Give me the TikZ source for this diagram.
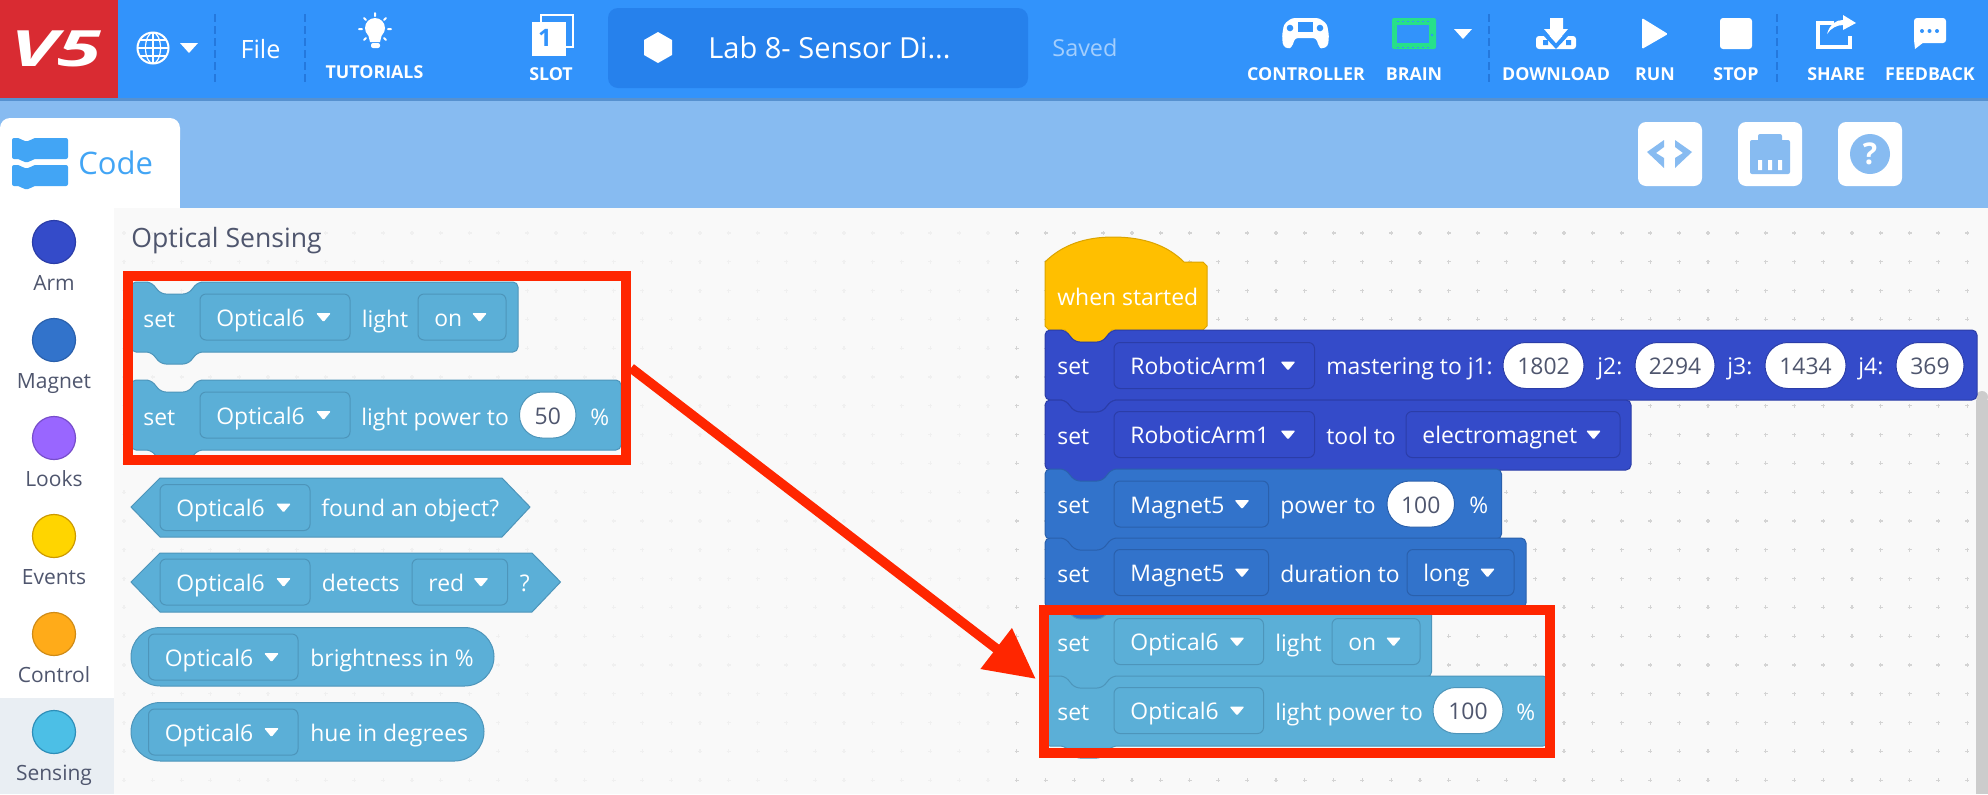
\documentclass[tikz,border=0pt]{standalone}
\usepackage{fontspec}
\usepackage{graphicx}
\setmainfont{Open Sans}
\usetikzlibrary{arrows.meta}
\definecolor{barblue}{HTML}{3293FB}
\definecolor{bandblue}{HTML}{87BBF1}
\definecolor{titleblue}{HTML}{2681EC}
\definecolor{sepblue}{HTML}{2478DD}
\definecolor{logored}{HTML}{D92B32}
\definecolor{codeblue}{HTML}{42A5F5}
\definecolor{inkgray}{HTML}{4F566E}
\definecolor{paper}{HTML}{F9F9F9}
\definecolor{sensback}{HTML}{E9EEF3}
\definecolor{redmark}{HTML}{FF2600}
\definecolor{brainfill}{HTML}{27E08A}
\definecolor{armfill}{HTML}{344BC9}
\definecolor{armedge}{HTML}{2B3DA8}
\definecolor{magfill}{HTML}{3273CB}
\definecolor{magedge}{HTML}{2A60AC}
\definecolor{optfill}{HTML}{5BAFD7}
\definecolor{optedge}{HTML}{4D95BA}
\definecolor{hatfill}{HTML}{FFBF00}
\definecolor{hatedge}{HTML}{DBA400}
\definecolor{lookfill}{HTML}{9966FF}
\definecolor{lookedge}{HTML}{774DCB}
\definecolor{evtfill}{HTML}{FFD500}
\definecolor{evtedge}{HTML}{CC9900}
\definecolor{ctlfill}{HTML}{FFAB19}
\definecolor{ctledge}{HTML}{CF8B17}
\definecolor{sensfill}{HTML}{4CBFE6}
\definecolor{sensedge}{HTML}{2E8EB8}
\newcommand{\blockfont}{\fontsize{11.45}{13}\selectfont}
\tikzset{
  blocktxt/.style={anchor=base west,inner sep=0pt,yshift=-.5pt,text=white,font=\blockfont},
  valtxt/.style={anchor=base,inner sep=0pt,yshift=-.5pt,text=inkgray,font=\blockfont},
  sidetxt/.style={anchor=base,inner sep=0pt,text=inkgray,font=\fontsize{10.5}{12}\selectfont},
  toptxt/.style={anchor=base,inner sep=0pt,text=white,font=\bfseries\fontsize{8.9}{10}\selectfont},
  sepline/.style={draw=sepblue,line width=.8pt,dash pattern=on 4pt off 2pt},
  redbox/.style={draw=redmark,line width=5pt,inner sep=0pt},
  redarrow/.style={draw=redmark,fill=redmark,line width=4.8pt,shorten >=2pt,-{Triangle[width=24.5pt,length=25pt]}}
}
% stack block: x0, y0, x1, colour
\newcommand{\stackblk}[4]{
  \draw[fill=#4fill,draw=#4edge,line width=.5pt,rounded corners=2.5pt]
    (#1,#2+35) -- (#1,#2) -- (#1+20,#2) -- (#1+30,#2+12) -- (#1+57,#2+12) -- (#1+67,#2)
    -- (#3,#2) -- (#3,#2+70) -- (#1+67,#2+70) -- (#1+57,#2+82) -- (#1+30,#2+82)
    -- (#1+20,#2+70) -- (#1,#2+70) -- cycle;
}
% dropdown: name, x0, x1, yc, colour, label
\newcommand{\dropbox}[6]{
  \draw[fill=#5fill,draw=#5edge,line width=.5pt,rounded corners=3pt] (#2,#4-23) rectangle (#3,#4+23);
  \node[blocktxt] (#1) at (#2+16,#4+8) {#6};
  \fill[white,rounded corners=.6pt] (#3-34,#4-4) -- (#3-19,#4-4) -- (#3-26.5,#4+5) -- cycle;
}
% value pill: name, x0, x1, yc, colour, value
\newcommand{\valpill}[6]{
  \draw[fill=white,draw=#5edge,line width=.5pt,rounded corners=11.4pt] (#2,#4-23) rectangle (#3,#4+23);
  \node[valtxt] (#1) at ({(#2+#3)/2},#4+8) {#6};
}
\begin{document}
\begin{tikzpicture}[x=.5pt,y=-.5pt]
  \useasboundingbox (0,0) rectangle (1988,794);
  \fill[paper] (0,0) rectangle (1988,794);
  \foreach \i in {0,...,64} % grid of the workspace
    \foreach \j in {0,...,19} {
      \ifnum\i<31 \def\dotcol{black!6}\else \def\dotcol{black!17}\fi
      \draw[\dotcol,line width=.6pt] (124+28.8*\i-2,233+28.8*\j) -- +(4,0);
      \draw[\dotcol,line width=.6pt] (124+28.8*\i,233+28.8*\j-2) -- +(0,4);
    }
  \fill[black!20] (1976,400) rectangle (1988,794);
  \fill[black!20] (1982,397) circle[radius=6];
  \fill[bandblue] (0,99) rectangle (1988,208);
  \fill[bandblue!60!barblue!85!black] (0,98) rectangle (1988,101);
  \fill[barblue] (0,0) rectangle (1988,98);
  \fill[logored] (0,0) rectangle (118,98);
  \node[anchor=base,inner sep=0pt,text=white,font=\bfseries\itshape\fontsize{25}{26}\selectfont] (logo) at (56,66) {\scalebox{1.6}[1]{V5}};
  % globe and menu
  \draw[white,line width=1pt] (153,48) circle[radius=15.5];
  \draw[white,line width=.6pt] (153,48) ellipse[x radius=7.5,y radius=15.5];
  \draw[white,line width=.6pt] (153,32.5) -- (153,63.5) (138,48) -- (168,48) (140,40) -- (166,40) (140,56) -- (166,56);
  \fill[white] (180,43) -- (198,43) -- (189,53) -- cycle;
  \draw[sepline] (215,14) -- (215,84);
  \draw[sepline] (305,14) -- (305,84);
  \node[anchor=base,inner sep=0pt,text=white,font=\fontsize{12.6}{14}\selectfont] (filemenu) at (260.5,58) {File};
  % tutorials bulb
  \fill[white] (375,28) circle[radius=10];
  \fill[white] (368,34) -- (382,34) -- (380,42) -- (370,42) -- cycle;
  \fill[white,rounded corners=1pt] (371,43) rectangle (380,48);
  \draw[white,line width=1pt,line cap=round] (375,13) -- (375,16) (359,29) -- (362,29) (388,29) -- (391,29)
    (364,18) -- (366,20) (386,18) -- (384,20) (364,40) -- (366,38) (386,40) -- (384,38);
  \node[toptxt] (tutorials) at (374.5,78) {TUTORIALS};
  % slot
  \draw[white,line width=1pt] (541,15) rectangle (573,47);
  \fill[white] (532,22) rectangle (566,56);
  \node[anchor=center,inner sep=0pt,text=barblue,font=\bfseries\fontsize{12}{13}\selectfont] (slotnum) at (545,38) {1};
  \node[toptxt] (slot) at (551,80) {SLOT};
  % project title
  \fill[titleblue,rounded corners=5pt] (608,8) rectangle (1028,88);
  \fill[white] (644,40) -- (658,32) -- (672,40) -- (672,55) -- (658,63) -- (644,55) -- cycle;
  \node[anchor=base west,inner sep=0pt,text=white,font=\fontsize{14.5}{16}\selectfont] (project) at (708,58) {Lab 8- Sensor Di...};
  \node[anchor=base west,inner sep=0pt,text=white!55!barblue,font=\fontsize{11.7}{13}\selectfont] (saved) at (1052,56) {Saved};
  % controller
  \fill[white,rounded corners=1.5pt] (1292,18) -- (1319,18) -- (1327,24) -- (1329,36) -- (1328,46) -- (1322,49) -- (1319,47)
    -- (1316,38) -- (1295,38) -- (1292,47) -- (1288,49) -- (1283,46) -- (1282,36) -- (1284,24) -- cycle;
  \fill[barblue] (1298,22) rectangle (1313,32);
  \fill[barblue] (1290,28) circle[radius=3.3] (1320,28) circle[radius=3.3];
  \node[toptxt] (controller) at (1306,80) {CONTROLLER};
  % brain
  \fill[brainfill,rounded corners=1pt] (1392,18) rectangle (1436,49);
  \fill[barblue] (1397,25) rectangle (1429,43);
  \fill[barblue] (1432,35) circle[radius=1.4];
  \draw[barblue,line width=.3pt,dash pattern=on 1pt off 1.5pt] (1397,21) -- (1430,21) (1397,47) -- (1430,47);
  \node[toptxt] (brain) at (1414,80) {BRAIN};
  \fill[white] (1454,29) -- (1472,29) -- (1463,39) -- cycle;
  \draw[sepline] (1489,14) -- (1489,84);
  % download
  \fill[white,rounded corners=1.5pt] (1536,36) rectangle (1576,49);
  \draw[barblue,line width=2pt] (1541,30) -- (1556,46) -- (1571,30);
  \fill[white] (1550,18) -- (1563,18) -- (1563,29) -- (1568,29) -- (1556,43) -- (1544,29) -- (1550,29) -- cycle;
  \fill[barblue] (1543,40) rectangle (1548,45) (1566,40) rectangle (1571,45);
  \node[toptxt] (download) at (1556,80) {DOWNLOAD};
  % run and stop
  \fill[white,rounded corners=.6pt] (1642,18) -- (1668,34) -- (1642,49) -- cycle;
  \node[toptxt] (runbtn) at (1655,80) {RUN};
  \fill[white,rounded corners=1.5pt] (1720,18) rectangle (1752,49);
  \node[toptxt] (stopbtn) at (1736,80) {STOP};
  \draw[sepline] (1777,14) -- (1777,84);
  % share
  \draw[white,line width=2pt] (1834,23) -- (1818,23) -- (1818,47) -- (1850,47) -- (1850,36);
  \fill[white] (1827,34) .. controls (1830,24) and (1836,20) .. (1843,20) -- (1843,15) -- (1856,23) -- (1843,30) -- (1843,25)
    .. controls (1837,25) and (1831,28) .. (1827,34) -- cycle;
  \node[toptxt] (share) at (1836,80) {SHARE};
  % feedback
  \fill[white,rounded corners=1.5pt] (1914,18) rectangle (1946,43);
  \fill[white] (1914,40) -- (1915,49) -- (1924,42) -- cycle;
  \fill[barblue] (1922,31) circle[radius=2] (1929.5,31) circle[radius=2] (1937,31) circle[radius=2];
  \node[toptxt] (feedback) at (1930,80) {FEEDBACK};
  % small buttons
  \foreach \bx in {1638,1738,1838}
    \fill[white,rounded corners=4pt] (\bx,122) rectangle (\bx+64,186);
  \fill[bandblue] (1664,140) -- (1647,152) -- (1664,168) -- (1664,158) -- (1656,153) -- (1664,147) -- cycle;
  \fill[bandblue] (1675,140) -- (1692,152) -- (1675,168) -- (1675,158) -- (1683,153) -- (1675,147) -- cycle;
  \fill[bandblue,rounded corners=1pt] (1758,134) rectangle (1782,145);
  \fill[bandblue,rounded corners=1pt] (1750,140) rectangle (1790,174);
  \fill[white] (1758,160) rectangle (1762,170) (1768,160) rectangle (1772,170) (1778,160) rectangle (1782,170);
  \fill[bandblue] (1870,154) circle[radius=20];
  \node[anchor=center,inner sep=0pt,text=white,font=\bfseries\fontsize{15}{16}\selectfont] (helpmark) at (1870,154) {?};
  % code tab and sidebar
  \fill[white,rounded corners=5pt] (0,118) rectangle (180,150);
  \fill[white] (0,135) rectangle (180,208);
  \fill[white] (0,208) rectangle (114,794);
  \fill[sensback] (0,698) rectangle (114,794);
  \foreach \by in {138,165} {
    \fill[codeblue,rounded corners=1pt] (12,\by) -- (20,\by) -- (23,\by+3) -- (30,\by+3) -- (33,\by) -- (68,\by) -- (68,\by+21)
      -- (33,\by+21) -- (30,\by+24) -- (23,\by+24) -- (20,\by+21) -- (12,\by+21) -- cycle;
  }
  \node[anchor=base west,inner sep=0pt,text=codeblue,font=\fontsize{15.5}{17}\selectfont] (codetab) at (78,174) {Code};
  \foreach \yc/\lab/\col in {242/Arm/arm,340/Magnet/mag,438/Looks/look,536/Events/evt,634/Control/ctl,732/Sensing/sens} {
    \draw[fill=\col fill,draw=\col edge,line width=.6pt] (54,\yc) circle[radius=21.5];
    \node[sidetxt] (side\lab) at (54,\yc+48) {\lab};
  }
  \node[anchor=base west,inner sep=0pt,text=inkgray,font=\fontsize{13.3}{15}\selectfont] (palhead) at (131,247) {Optical Sensing};

  % palette blocks
  \stackblk{131}{282}{518}{opt}
  \node[blocktxt] (palset1) at (143,326) {set};
  \dropbox{palopt1}{200}{350}{317}{opt}{Optical6}
  \node[blocktxt] (pallight) at (361.5,326) {light};
  \dropbox{palon}{418}{506}{317}{opt}{on}
  \stackblk{131}{380}{621}{opt}
  \node[blocktxt] (palset2) at (143,424) {set};
  \dropbox{palopt2}{200}{350}{415}{opt}{Optical6}
  \node[blocktxt] (palpower) at (361,424) {light power to};
  \valpill{palval}{519.5}{576}{415}{opt}{50}
  \node[blocktxt] (palpct) at (590,424) {\%};
  \draw[fill=optfill,draw=optedge,line width=.5pt] (131,507) -- (160,478) -- (502,478) -- (530,507) -- (502,537) -- (160,537) -- cycle;
  \dropbox{palopt3}{160}{310}{507.5}{opt}{Optical6}
  \node[blocktxt] (palfound) at (321,515.5) {found an object?};
  \draw[fill=optfill,draw=optedge,line width=.5pt] (131,582) -- (160,553) -- (532,553) -- (560.5,582) -- (532,612) -- (160,612) -- cycle;
  \dropbox{palopt4}{160}{310}{582}{opt}{Optical6}
  \node[blocktxt] (paldetect) at (321.5,590) {detects};
  \dropbox{palred}{412}{507.5}{582}{opt}{red}
  \node[blocktxt] (palq) at (519.5,590) {?};
  \draw[fill=optfill,draw=optedge,line width=.5pt,rounded corners=14.7pt] (131,627.5) rectangle (494,686);
  \dropbox{palopt5}{148.5}{298}{657}{opt}{Optical6}
  \node[blocktxt] (palbright) at (310,665) {brightness in \%};
  \draw[fill=optfill,draw=optedge,line width=.5pt,rounded corners=14.7pt] (131,702.5) rectangle (484,761);
  \dropbox{palopt6}{148.5}{298}{732}{opt}{Optical6}
  \node[blocktxt] (palhue) at (310,740) {hue in degrees};

  % workspace stack
  \draw[fill=hatfill,draw=hatedge,line width=.5pt] (1045,262) .. controls (1062,245) and (1085,237) .. (1113,237)
    .. controls (1145,237) and (1168,246) .. (1184,262) -- (1203,262) -- (1207,266) -- (1207,326) -- (1203,330)
    -- (1112,330) -- (1102,342) -- (1075,342) -- (1065,330) -- (1049,330) -- (1045,326) -- cycle;
  \node[blocktxt] (startlbl) at (1057,304) {when started};
  \stackblk{1045}{330}{1977}{arm}
  \node[blocktxt] (wset1) at (1057,373.5) {set};
  \dropbox{warm1}{1114}{1314.5}{365.5}{arm}{RoboticArm1}
  \node[blocktxt] (wmaster) at (1326,373.5) {mastering to j1:};
  \valpill{wj1}{1503}{1584}{365.5}{arm}{1802}
  \node[blocktxt] (wlblj2) at (1597,373.5) {j2:};
  \valpill{wj2}{1635}{1715}{365.5}{arm}{2294}
  \node[blocktxt] (wlblj3) at (1727,373.5) {j3:};
  \valpill{wj3}{1765}{1846}{365.5}{arm}{1434}
  \node[blocktxt] (wlblj4) at (1858,373.5) {j4:};
  \valpill{wj4}{1896}{1964}{365.5}{arm}{369}
  \stackblk{1045}{400}{1631}{arm}
  \node[blocktxt] (wset2) at (1057,443) {set};
  \dropbox{warm2}{1114}{1314.5}{434.5}{arm}{RoboticArm1}
  \node[blocktxt] (wtool) at (1326,443) {tool to};
  \dropbox{welec}{1406}{1620}{434.5}{arm}{electromagnet}
  \stackblk{1045}{469}{1501.5}{mag}
  \node[blocktxt] (wset3) at (1057,512.5) {set};
  \dropbox{wmag1}{1114}{1268.5}{504}{mag}{Magnet5}
  \node[blocktxt] (wpower) at (1280,512.5) {power to};
  \valpill{wmagval}{1387}{1454.5}{504}{mag}{100}
  \node[blocktxt] (wpct1) at (1469,512.5) {\%};
  \stackblk{1045}{538}{1526}{mag}
  \node[blocktxt] (wset4) at (1057,581) {set};
  \dropbox{wmag2}{1114}{1268.5}{572.5}{mag}{Magnet5}
  \node[blocktxt] (wdur) at (1280,581) {duration to};
  \dropbox{wlong}{1407}{1514}{572.5}{mag}{long}
  \stackblk{1045}{607}{1431.5}{opt}
  \node[blocktxt] (wset5) at (1057,650) {set};
  \dropbox{wopt1}{1114}{1263.5}{641.5}{opt}{Optical6}
  \node[blocktxt] (wlight) at (1275,650) {light};
  \dropbox{won}{1332}{1420}{641.5}{opt}{on}
  \stackblk{1045}{676}{1548}{opt}
  \node[blocktxt] (wset6) at (1057,719) {set};
  \dropbox{wopt2}{1114}{1263.5}{710.5}{opt}{Optical6}
  \node[blocktxt] (wlpower) at (1275,719) {light power to};
  \valpill{woptval}{1433}{1503}{710.5}{opt}{100}
  \node[blocktxt] (wpct2) at (1516,719) {\%};

  % red marks
  \node[redbox,minimum width=249pt,minimum height=92pt] (palbox) at (377,368) {};
  \node[redbox,minimum width=253pt,minimum height=71.35pt] (workbox) at (1297,681.35) {};
  \draw[redarrow] (palbox.east) -- (workbox.west);
\end{tikzpicture}
\end{document}
